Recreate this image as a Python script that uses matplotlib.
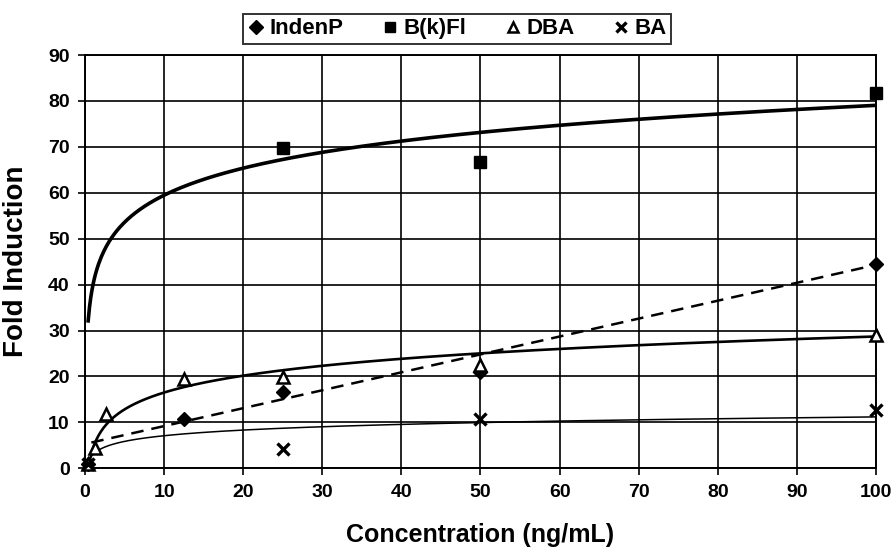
import numpy as np
import matplotlib
matplotlib.use("Agg")
import matplotlib.pyplot as plt

plt.rcParams["font.family"] = ["Liberation Sans", "DejaVu Sans"]
plt.rcParams["font.weight"] = "bold"

# measured fold induction per compound
inden_x = [0.4, 12.5, 25, 50, 100]
inden_y = [1.0, 10.8, 16.6, 21.0, 44.5]

bkf_x = [25, 50, 100]
bkf_y = [69.7, 66.7, 81.8]

dba_x = [0.4, 1.25, 2.7, 12.5, 25, 50, 100]
dba_y = [1.0, 4.5, 11.8, 19.4, 19.8, 22.6, 29.0]

ba_x = [0.4, 25, 50, 100]
ba_y = [1.0, 4.2, 10.7, 12.6]

# trendline coefficients: log fits y = a*ln(x) + b, linear fit y = m*x + c
bkf_trend = (8.5, 39.9)
dba_trend = (5.3, 4.3)
ba_trend = (1.78, 3.0)
inden_trend = (0.39, 5.3)

xticks = np.arange(0, 101, 10)
yticks = np.arange(0, 91, 10)

fig = plt.figure(figsize=(8.91, 5.48), dpi=100)
ax = fig.add_axes([0.0954, 0.1454, 0.8877, 0.7542])

for t in xticks:
    ax.axvline(t, color="black", lw=1.2, zorder=1)
for t in yticks:
    ax.axhline(t, color="black", lw=1.2, zorder=1)

xs = np.linspace(0.4, 100, 600)
ax.plot(xs, bkf_trend[0] * np.log(xs) + bkf_trend[1], color="black", lw=2.6, zorder=2)
xs = np.linspace(0.5, 100, 600)
ax.plot(xs, dba_trend[0] * np.log(xs) + dba_trend[1], color="black", lw=1.9, zorder=2)
xs = np.linspace(0.45, 100, 600)
ax.plot(xs, ba_trend[0] * np.log(xs) + ba_trend[1], color="black", lw=1.1, zorder=2)
xl = np.array([0.8, 100])
ax.plot(xl, inden_trend[0] * xl + inden_trend[1], color="black", lw=1.8,
        ls=(0, (5, 3.2)), zorder=2)

ax.plot(inden_x, inden_y, "D", color="black", ms=7, ls="none", zorder=4,
        clip_on=False, label="IndenP")
ax.plot(bkf_x, bkf_y, "s", color="black", ms=8, ls="none", zorder=4,
        clip_on=False, label="B(k)Fl")
ax.plot(dba_x, dba_y, "^", mfc="white", mec="black", mew=1.8, ms=8, ls="none",
        zorder=4, clip_on=False, label="DBA")
ax.plot(ba_x, ba_y, "x", color="black", mew=2.4, ms=8, ls="none", zorder=4,
        clip_on=False, label="BA")

ax.set_xlim(0, 100)
ax.set_ylim(0, 90)
ax.set_xticks(xticks)
ax.set_yticks(yticks)
ax.tick_params(direction="out", length=5, width=1.2, labelsize=14, pad=6)
for lab in ax.get_xticklabels() + ax.get_yticklabels():
    lab.set_fontweight("bold")
for s in ax.spines.values():
    s.set_linewidth(1.4)

ax.set_xlabel("Concentration (ng/mL)", fontsize=18, fontweight="bold", labelpad=16)
ax.set_ylabel("Fold Induction", fontsize=20, fontweight="bold", labelpad=14)

leg = fig.legend(loc="upper center", bbox_to_anchor=(0.513, 0.995), ncol=4,
                 frameon=True, fancybox=False, edgecolor="black",
                 prop={"size": 16, "weight": "bold"}, handletextpad=0.2,
                 columnspacing=1.7, borderpad=0.2, handlelength=0.8,
                 markerscale=0.95)
leg.get_frame().set_linewidth(1.4)

fig.savefig("out.png", dpi=100)
